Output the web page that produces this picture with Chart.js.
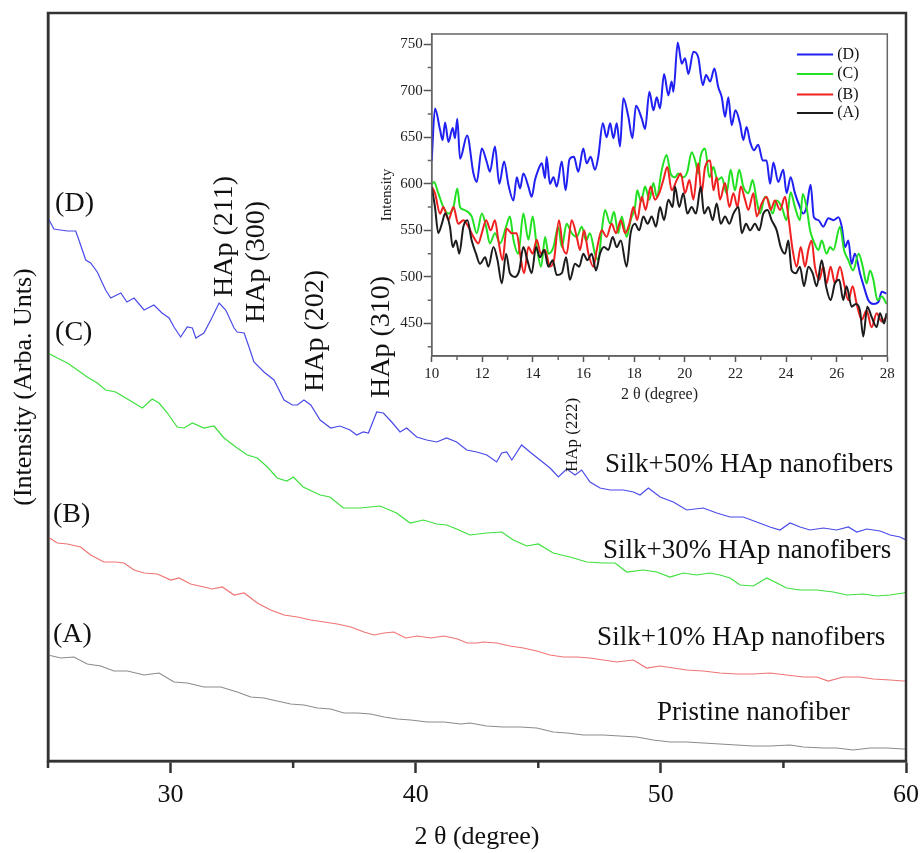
<!DOCTYPE html>
<html>
<head>
<meta charset="utf-8">
<script src="https://cdn.jsdelivr.net/npm/chart.js@4.4.0/dist/chart.umd.min.js"></script>
<style>
  html, body { margin: 0; padding: 0; background: #fff; }
  #wrap { position: relative; width: 922px; height: 853px; }
  #main { position: absolute; left: 0; top: 0; }
  #inset { position: absolute; left: 378px; top: 25px; }
</style>
</head>
<body>
<div id="wrap">
  <canvas id="main" width="922" height="853"></canvas>
  <canvas id="inset" width="522" height="380"></canvas>
</div>
<script>
// ---- wide-angle scans, 2θ 25-60 (stacked, arbitrary units) ----
const mainDx = [25.0,25.24,25.5,25.8,26.13,26.26,26.54,26.74,27.01,27.35,27.56,27.97,28.22,28.51,28.92,29.32,29.65,29.94,30.14,30.41,30.68,30.89,31.03,31.36,31.64,31.98,32.25,32.59,32.72,33.0,33.2,33.4,33.81,34.22,34.63,34.97,35.17,35.44,35.72,36.1,36.53,36.91,37.32,37.59,37.86,38.07,38.41,38.68,39.02,39.36,39.63,40.04,40.45,40.86,41.26,41.67,42.08,42.49,42.9,43.3,43.51,43.71,43.92,44.32,44.66,45.07,45.48,45.82,46.16,46.5,46.77,47.11,47.52,47.93,48.47,48.88,49.15,49.49,49.97,50.51,51.05,51.73,52.28,52.82,53.36,53.91,54.45,54.86,55.27,55.68,56.08,56.63,57.17,57.65,57.99,58.4,58.94,59.35,59.76,60.0];
const mainDy = [543,532,531,530,530,521,501,498,489,471,463,468,459,463,451,456,448,443,434,424,434,433,423,428,441,458,451,433,429,428,414,399,389,381,361,356,356,361,356,341,333,335,331,326,329,328,349,348,339,329,333,324,321,319,323,319,311,309,306,299,308,309,301,316,309,301,293,284,292,286,291,279,273,271,271,269,266,273,264,259,251,253,248,244,244,239,234,231,238,234,231,233,231,234,229,232,230,226,224,221];

const mainCx = [25.0,25.38,25.79,26.2,26.6,27.01,27.35,27.76,28.1,28.44,28.85,29.25,29.53,29.87,30.27,30.55,30.89,31.36,31.77,32.18,32.66,33.13,33.54,33.95,34.35,34.74,35.01,35.41,36.1,36.5,37.05,37.73,38.54,39.22,39.77,40.31,40.86,41.26,41.67,42.21,42.9,43.51,43.98,44.53,45.0,45.61,46.29,46.98,47.65,48.13,48.61,49.28,49.83,50.37,50.92,51.46,52.0,52.41,52.82,53.23,53.77,54.32,54.73,55.13,55.68,56.36,57.04,57.58,58.26,58.81,59.35,59.89,60.0];
const mainCy = [408,403,398,391,384,378,371,369,364,359,353,362,358,348,334,333,338,333,335,323,314,306,303,294,283,280,284,274,266,264,253,253,255,248,238,241,237,236,232,226,228,229,221,215,217,208,204,199,198,198,189,191,189,184,188,186,188,186,183,176,175,183,178,173,171,171,169,166,167,165,166,168,169];

const mainBx = [25.0,25.38,25.79,26.33,26.74,27.28,27.76,28.1,28.51,28.92,29.46,30.01,30.34,30.82,31.36,31.7,32.11,32.59,33.0,33.54,34.08,34.63,35.17,35.72,36.26,36.8,37.35,37.89,38.3,38.71,39.11,39.59,40.07,40.61,41.15,41.7,42.1,42.51,42.76,43.3,43.85,44.39,44.94,45.48,46.02,46.57,47.11,47.65,48.2,48.88,49.42,49.97,50.51,51.05,51.73,52.41,53.09,53.77,54.45,55.13,55.81,56.36,56.83,57.44,58.12,58.67,59.35,59.89,60.0];
const mainBy = [224,218,217,214,206,199,199,198,191,188,187,181,183,177,174,172,174,166,168,158,151,146,144,141,139,137,134,129,126,128,129,123,125,123,125,122,118,118,119,118,115,113,110,106,104,104,103,101,99,101,93,95,93,91,90,88,87,87,88,86,84,84,80,84,84,82,81,80,80];

const mainAx = [25.0,25.52,26.06,26.6,27.15,27.69,28.24,28.92,29.53,30.14,30.68,31.36,32.05,32.72,33.27,33.81,34.35,34.9,35.44,35.99,36.53,37.07,37.62,38.16,38.71,39.25,39.8,40.47,41.15,41.84,42.21,42.9,43.57,44.25,44.94,45.61,46.16,46.84,47.65,48.33,49.02,49.69,50.37,51.05,51.73,52.41,53.09,53.77,54.45,55.27,55.81,56.63,57.17,57.85,58.53,59.21,59.89,60.0];
const mainAy = [106,103,104,97,95,90,90,86,88,79,78,74,74,69,64,63,60,57,56,53,52,48,48,47,44,42,41,39,39,37,38,35,34,34,33,29,28,26,26,25,24,21,19,19,18,17,16,15,15,16,14,13,13,11,13,13,12,12];

const mainTicks = [30, 40, 50, 60];
const mainMinor = [25, 35, 45, 55];

// ---- low-angle detail, 2θ 10-28 ----
const insetDx = [10.0,10.13,10.33,10.43,10.53,10.66,10.83,10.92,11.01,11.12,11.4,11.65,11.78,11.98,12.17,12.3,12.5,12.67,12.86,13.03,13.23,13.36,13.49,13.62,13.82,13.95,14.08,14.21,14.35,14.48,14.54,14.67,14.81,14.94,15.14,15.29,15.44,15.62,15.79,15.99,16.12,16.28,16.45,16.58,16.76,16.91,17.05,17.18,17.31,17.44,17.57,17.77,17.93,18.07,18.3,18.43,18.6,18.76,18.89,19.02,19.18,19.35,19.48,19.55,19.72,19.88,20.01,20.14,20.34,20.53,20.71,20.84,21.0,21.17,21.32,21.46,21.59,21.72,21.85,22.0,22.18,22.31,22.44,22.58,22.73,22.9,23.08,23.23,23.37,23.5,23.69,23.89,24.02,24.18,24.35,24.52,24.68,24.81,24.97,25.1,25.28,25.47,25.67,25.87,26.07,26.2,26.33,26.46,26.59,26.72,26.92,27.08,27.25,27.45,27.65,27.78,27.97];
const insetDy = [625,681,658,647,666,645,660,649,670,627,652,611,602,638,624,613,640,600,624,599,582,607,595,611,597,586,604,615,622,606,629,600,607,597,624,593,626,629,613,638,622,629,615,629,665,650,665,649,665,640,692,672,649,684,670,659,699,679,693,681,718,695,710,699,752,729,735,718,742,736,706,717,710,724,704,693,672,693,663,679,665,647,661,645,636,642,625,625,600,623,602,615,590,607,590,577,568,575,599,564,561,554,563,561,564,554,532,539,514,525,504,489,475,471,473,484,482];

const insetCx = [10.0,10.09,10.26,10.46,10.66,10.86,11.01,11.12,11.28,11.58,11.78,11.98,12.15,12.3,12.5,12.7,12.94,13.09,13.23,13.42,13.62,13.82,13.99,14.15,14.32,14.48,14.61,14.81,15.0,15.14,15.33,15.53,15.73,15.93,16.1,16.25,16.45,16.58,16.72,16.85,17.05,17.2,17.37,17.51,17.7,17.86,18.03,18.12,18.27,18.43,18.6,18.76,18.89,19.09,19.28,19.44,19.61,19.74,19.94,20.1,20.27,20.44,20.53,20.62,20.8,20.97,21.13,21.29,21.46,21.65,21.81,21.98,22.15,22.31,22.51,22.68,22.84,22.97,23.17,23.3,23.47,23.63,23.83,24.02,24.18,24.35,24.55,24.66,24.81,24.95,25.08,25.28,25.41,25.6,25.74,25.87,26.13,26.29,26.46,26.65,26.87,27.03,27.18,27.32,27.45,27.61,27.78,27.97];
const insetCy = [599,602,590,575,568,575,595,575,572,565,547,568,554,536,547,536,554,565,540,525,568,540,565,533,511,543,525,532,554,532,557,547,543,554,539,547,525,518,550,572,557,570,547,565,543,561,575,593,581,597,583,601,586,615,631,611,607,611,607,613,634,622,611,629,638,607,618,604,607,590,615,593,615,597,590,604,582,568,586,582,568,582,575,561,591,575,561,589,575,550,539,529,539,525,532,529,554,529,518,507,525,511,493,507,497,475,479,471];

const insetBx = [10.0,10.13,10.33,10.46,10.66,10.86,11.05,11.25,11.45,11.65,11.84,11.98,12.15,12.33,12.5,12.63,12.8,12.96,13.16,13.36,13.49,13.65,13.82,13.99,14.15,14.31,14.48,14.67,14.83,15.03,15.18,15.33,15.53,15.73,15.86,16.02,16.19,16.39,16.52,16.72,16.91,17.11,17.28,17.47,17.64,17.81,17.97,18.12,18.3,18.45,18.65,18.82,18.99,19.15,19.31,19.48,19.68,19.84,20.01,20.18,20.34,20.53,20.66,20.8,21.0,21.13,21.26,21.39,21.59,21.76,21.92,22.08,22.21,22.38,22.51,22.71,22.84,23.04,23.23,23.39,23.56,23.76,23.96,24.09,24.26,24.42,24.58,24.75,24.88,25.01,25.14,25.31,25.47,25.6,25.76,25.93,26.13,26.29,26.46,26.63,26.79,26.99,27.18,27.38,27.58,27.78,27.97];
const insetBy = [597,590,568,575,561,575,557,561,554,543,536,547,561,550,561,540,518,552,547,547,525,504,532,525,540,525,529,511,518,561,532,525,561,543,529,550,525,511,529,550,543,557,547,561,547,557,575,561,586,572,597,583,590,604,618,593,604,611,590,604,583,622,590,618,625,593,607,583,601,575,590,575,597,583,572,590,565,579,586,572,582,572,586,565,529,511,532,511,529,539,511,497,511,493,511,493,511,493,475,490,471,454,464,446,461,452,457];

const insetAx = [10.0,10.13,10.26,10.4,10.53,10.72,10.83,10.96,11.09,11.25,11.41,11.58,11.75,11.91,12.11,12.24,12.44,12.6,12.77,12.94,13.09,13.29,13.46,13.62,13.78,13.95,14.12,14.28,14.44,14.61,14.78,14.94,15.14,15.31,15.46,15.66,15.83,15.99,16.15,16.32,16.49,16.65,16.81,16.98,17.15,17.31,17.47,17.7,17.86,18.03,18.2,18.36,18.53,18.69,18.86,19.02,19.18,19.35,19.52,19.61,19.78,19.94,20.1,20.27,20.44,20.63,20.76,20.93,21.1,21.26,21.42,21.59,21.76,21.92,22.12,22.25,22.42,22.58,22.77,22.94,23.1,23.27,23.43,23.63,23.79,23.96,24.09,24.22,24.39,24.55,24.71,24.88,25.05,25.21,25.41,25.58,25.76,25.93,26.1,26.26,26.39,26.59,26.76,26.92,27.05,27.21,27.38,27.58,27.71,27.87,27.97];
const insetAy = [597,575,547,557,568,554,532,539,525,554,561,539,525,514,521,511,532,518,493,525,504,500,507,532,518,504,532,521,529,511,518,502,504,521,497,514,511,525,518,525,507,525,532,529,543,532,539,511,547,557,550,565,557,565,554,575,561,583,575,597,575,590,568,575,568,597,568,575,561,579,557,565,557,568,575,547,557,550,557,550,568,572,561,550,532,525,539,507,504,511,490,511,504,490,518,490,475,493,497,475,490,468,471,464,436,468,457,446,461,450,461];

const insetXTicks = [10, 12, 14, 16, 18, 20, 22, 24, 26, 28];
const insetXMinor = [11, 13, 15, 17, 19, 21, 23, 25, 27];
const insetYTicks = [450, 500, 550, 600, 650, 700, 750];
const insetYMinor = [425, 475, 525, 575, 625, 675, 725];

// ---- text ----
const curveTags = ['(D)', '(C)', '(B)', '(A)'];
const sampleNames = ['Silk+50% HAp nanofibers', 'Silk+30% HAp nanofibers', 'Silk+10% HAp nanofibers', 'Pristine nanofiber'];
const peakNames = ['HAp (211)', 'HAp (300)', 'HAp (202)', 'HAp (310)', 'HAp (222)'];

const serif = "'Liberation Serif', 'Times New Roman', serif";
const ink = '#111';
Chart.defaults.font.family = serif;
Chart.defaults.color = ink;

const pts = (xs, ys) => xs.map((x, i) => ({ x: x, y: ys[i] }));

// frame, short minor ticks, free text and a small line legend
const decorations = {
  id: 'decorations',
  afterDraw(chart, args, o) {
    const ctx = chart.ctx;
    const a = chart.chartArea;
    const sx = chart.scales.x, sy = chart.scales.y;
    ctx.save();
    ctx.strokeStyle = o.frameColor;
    ctx.lineWidth = o.frameWidth;
    ctx.strokeRect(a.left, a.top, a.right - a.left, a.bottom - a.top);

    ctx.beginPath();
    (o.minorX || []).forEach(v => {
      const px = sx.getPixelForValue(v);
      ctx.moveTo(px, a.bottom);
      ctx.lineTo(px, a.bottom + o.minorLenX);
    });
    (o.minorY || []).forEach(v => {
      const py = sy.getPixelForValue(v);
      ctx.moveTo(a.left, py);
      ctx.lineTo(a.left - o.minorLenY, py);
    });
    ctx.stroke();

    ctx.fillStyle = ink;
    (o.labels || []).forEach(l => {
      ctx.save();
      ctx.translate(sx.getPixelForValue(l.x), sy.getPixelForValue(l.y));
      if (l.vertical) ctx.rotate(-Math.PI / 2);
      ctx.font = l.size + 'px ' + serif;
      ctx.textAlign = 'left';
      ctx.textBaseline = l.baseline || 'alphabetic';
      ctx.fillText(l.text, 0, 0);
      ctx.restore();
    });

    if (o.legend) {
      const lg = o.legend;
      lg.rows.forEach((row, i) => {
        const ds = chart.data.datasets[row];
        const py = sy.getPixelForValue(lg.ys[i]);
        ctx.strokeStyle = ds.borderColor;
        ctx.lineWidth = ds.borderWidth;
        ctx.beginPath();
        ctx.moveTo(sx.getPixelForValue(lg.x1), py);
        ctx.lineTo(sx.getPixelForValue(lg.x2), py);
        ctx.stroke();
        ctx.font = lg.size + 'px ' + serif;
        ctx.textAlign = 'left';
        ctx.textBaseline = 'middle';
        ctx.fillText(ds.label, sx.getPixelForValue(lg.xText), py);
      });
    }
    ctx.restore();
  }
};

function line(label, xs, ys, color, width, smooth) {
  return {
    label: label,
    data: pts(xs, ys),
    borderColor: color,
    borderWidth: width,
    pointRadius: 0,
    tension: smooth ? 0.4 : 0,
    cubicInterpolationMode: smooth ? 'monotone' : 'default',
    fill: false
  };
}

// main stacked plot
new Chart(document.getElementById('main'), {
  type: 'line',
  data: {
    datasets: [
      line(curveTags[0], mainDx, mainDy, '#4a4ae8', 1.2, false),
      line(curveTags[1], mainCx, mainCy, '#3ee03e', 1.2, false),
      line(curveTags[2], mainBx, mainBy, '#f07474', 1.2, false),
      line(curveTags[3], mainAx, mainAy, '#8c8c8c', 1.2, false)
    ]
  },
  options: {
    responsive: false,
    animation: false,
    events: [],
    layout: { padding: { left: 9, right: 16, top: 13, bottom: 0 } },
    scales: {
      x: {
        type: 'linear',
        min: 25,
        max: 60,
        afterBuildTicks: s => { s.ticks = mainTicks.map(v => ({ value: v })); },
        afterFit: s => { s.height = 92; s.paddingLeft = 0; s.paddingRight = 0; },
        ticks: { font: { size: 26 }, color: ink, padding: 7, maxRotation: 0, autoSkip: false },
        grid: { display: true, drawOnChartArea: false, drawTicks: true, tickLength: 12, tickWidth: 2.5, tickColor: '#333' },
        border: { display: true, color: '#333', width: 2.5 },
        title: { display: true, text: '2 θ (degree)', font: { size: 26 }, color: ink, padding: { top: 9, bottom: 0 } }
      },
      y: {
        min: 0,
        max: 748,
        afterFit: s => { s.width = 39; },
        ticks: { display: false },
        grid: { display: false, drawTicks: false },
        border: { display: true, color: '#333', width: 2.5 },
        title: { display: true, text: '(Intensity (Arba. Unts)', font: { size: 26 }, color: ink, padding: { top: 0, bottom: 8 } }
      }
    },
    plugins: {
      legend: { display: false },
      tooltip: { enabled: false },
      decorations: {
        frameColor: '#333',
        frameWidth: 2.5,
        minorX: mainMinor,
        minorLenX: 7,
        labels: [
          { text: curveTags[0], x: 25.29, y: 557, size: 28, baseline: 'middle' },
          { text: curveTags[1], x: 25.29, y: 428, size: 28, baseline: 'middle' },
          { text: curveTags[2], x: 25.2, y: 246, size: 28, baseline: 'middle' },
          { text: curveTags[3], x: 25.2, y: 126, size: 28, baseline: 'middle' },
          { text: sampleNames[0], x: 47.72, y: 289, size: 27 },
          { text: sampleNames[1], x: 47.64, y: 203, size: 27 },
          { text: sampleNames[2], x: 47.4, y: 116, size: 27 },
          { text: sampleNames[3], x: 49.84, y: 41, size: 27 },
          { text: peakNames[0], x: 32.51, y: 464, size: 28, vertical: true },
          { text: peakNames[1], x: 33.83, y: 438, size: 28, vertical: true },
          { text: peakNames[2], x: 36.2, y: 369, size: 28, vertical: true },
          { text: peakNames[3], x: 38.93, y: 363, size: 28, vertical: true },
          { text: peakNames[4], x: 46.57, y: 289, size: 17, vertical: true }
        ]
      }
    }
  },
  plugins: [decorations]
});

// inset: 10-28 degree region
new Chart(document.getElementById('inset'), {
  type: 'line',
  data: {
    datasets: [
      line(curveTags[3], insetAx, insetAy, '#1c1c1c', 2, true),
      line(curveTags[2], insetBx, insetBy, '#f02020', 2, true),
      line(curveTags[1], insetCx, insetCy, '#22e022', 2, true),
      line(curveTags[0], insetDx, insetDy, '#2020f2', 2, true)
    ]
  },
  options: {
    responsive: false,
    animation: false,
    events: [],
    layout: { padding: { left: 0, right: 12.7, top: 9, bottom: 0 } },
    scales: {
      x: {
        type: 'linear',
        min: 10,
        max: 28,
        afterBuildTicks: s => { s.ticks = insetXTicks.map(v => ({ value: v })); },
        afterFit: s => { s.height = 49; s.paddingLeft = 0; s.paddingRight = 0; },
        ticks: { font: { size: 15 }, color: '#222', padding: 3, maxRotation: 0, autoSkip: false },
        grid: { display: true, drawOnChartArea: false, drawTicks: true, tickLength: 6, tickWidth: 1.5, tickColor: '#555' },
        border: { display: true, color: '#555', width: 1.5 },
        title: { display: true, text: '2 θ (degree)', font: { size: 16 }, color: '#222', padding: { top: 3, bottom: 1 } }
      },
      y: {
        min: 415,
        max: 761,
        afterBuildTicks: s => { s.ticks = insetYTicks.map(v => ({ value: v })); },
        afterFit: s => { s.width = 53.7; s.paddingTop = 0; s.paddingBottom = 0; },
        ticks: { font: { size: 15 }, color: '#222', padding: 1 },
        grid: { display: true, drawOnChartArea: false, drawTicks: true, tickLength: 8, tickWidth: 1.5, tickColor: '#555' },
        border: { display: true, color: '#555', width: 1.5 },
        title: { display: true, text: 'Intensity', font: { size: 15 }, color: '#222', padding: { top: 0, bottom: 4 } }
      }
    },
    plugins: {
      legend: { display: false },
      tooltip: { enabled: false },
      decorations: {
        frameColor: '#666',
        frameWidth: 1.5,
        minorX: insetXMinor,
        minorLenX: 4,
        minorY: insetYMinor,
        minorLenY: 4,
        legend: { rows: [3, 2, 1, 0], ys: [739, 718, 696, 676], x1: 24.43, x2: 25.86, xText: 26.02, size: 16 }
      }
    }
  },
  plugins: [decorations]
});
</script>
</body>
</html>
